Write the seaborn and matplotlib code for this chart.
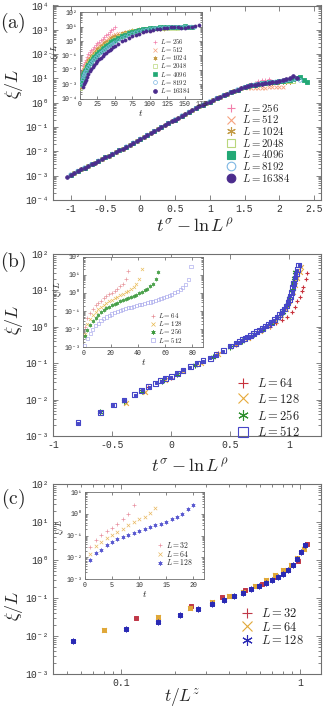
import numpy as np
import matplotlib
matplotlib.use("Agg")
import matplotlib.pyplot as plt
import seaborn as sns
from matplotlib.lines import Line2D
from matplotlib.ticker import (LogLocator, FixedLocator, FuncFormatter,
                               MultipleLocator, NullFormatter)

# ---------------------------------------------------------------- panel (a)
A_SIZES = [256, 512, 1024, 2048, 4096, 8192, 16384]
A_COLORS = ["#f27fab", "#f6a27e", "#c39a45", "#b9d77c", "#22a875", "#7db7e3", "#4b2c8d"]
A_MARKERS = ["+", "x", (6, 2, 0), "s", "s", "o", "o"]
A_OPEN = [False, False, False, True, False, True, False]

# collapsed curve xi/L (log10) vs t^sigma - ln L^rho, shared by all sizes
A_X = [-1.05, -1.0, -0.95, -0.9, -0.85, -0.8, -0.75, -0.7, -0.65, -0.6, -0.55, -0.5,
       -0.45, -0.4, -0.35, -0.3, -0.25, -0.2, -0.15, -0.1, -0.05, 0.0, 0.05, 0.1,
       0.15, 0.2, 0.25, 0.3, 0.35, 0.4, 0.45, 0.5, 0.55, 0.6, 0.65, 0.7, 0.75, 0.8,
       0.85, 0.9, 0.95, 1.0, 1.05, 1.1, 1.15, 1.2, 1.25, 1.3, 1.35, 1.4, 1.45, 1.5]
A_LOGY = [-3.05, -2.96, -2.88, -2.81, -2.74, -2.67, -2.60, -2.53, -2.46, -2.39, -2.32, -2.25,
          -2.18, -2.11, -2.03, -1.96, -1.89, -1.81, -1.73, -1.65, -1.57, -1.49, -1.41, -1.33,
          -1.25, -1.17, -1.09, -1.01, -0.93, -0.85, -0.77, -0.69, -0.61, -0.53, -0.46, -0.38,
          -0.30, -0.23, -0.15, -0.08, -0.01, 0.05, 0.12, 0.19, 0.25, 0.31, 0.37, 0.43,
          0.49, 0.54, 0.59, 0.64]
A_START = [4, 2, 2, 2, 1, 1, 0]
A_STEP = [2, 2, 2, 2, 2, 2, 1]

# saturation tails per size
A_TX_256 = [1.55, 1.6, 1.65, 1.7, 1.75, 1.8, 1.85]
A_TY_256 = [0.72, 0.78, 0.83, 0.88, 0.92, 0.95, 0.99]
A_TX_512 = [1.55, 1.6, 1.65, 1.7, 1.75, 1.8, 1.85, 1.9, 1.95, 2.0, 2.05]
A_TY_512 = [0.60, 0.60, 0.61, 0.61, 0.62, 0.62, 0.63, 0.63, 0.64, 0.65, 0.66]
A_TX_1024 = [1.55, 1.6, 1.65, 1.7, 1.75, 1.8, 1.85, 1.9, 1.95, 2.0, 2.05, 2.1, 2.15]
A_TY_1024 = [0.68, 0.71, 0.74, 0.76, 0.78, 0.8, 0.82, 0.83, 0.84, 0.85, 0.86, 0.86, 0.85]
A_TX_2048 = [1.55, 1.6, 1.65, 1.7, 1.75, 1.8, 1.85, 1.9, 1.95, 2.0, 2.05, 2.1, 2.15, 2.2]
A_TY_2048 = [0.69, 0.72, 0.75, 0.78, 0.8, 0.82, 0.84, 0.85, 0.86, 0.87, 0.88, 0.88, 0.89, 0.88]
A_TX_4096 = [1.55, 1.6, 1.65, 1.7, 1.75, 1.8, 1.85, 1.9, 1.95, 2.0, 2.05, 2.1, 2.15, 2.2,
             2.25, 2.3, 2.35, 2.4]
A_TY_4096 = [0.68, 0.72, 0.75, 0.78, 0.8, 0.82, 0.84, 0.86, 0.87, 0.88, 0.9, 0.92, 0.95, 0.97,
             1.0, 1.05, 0.95, 0.85]
A_TX_8192 = [1.55, 1.6, 1.65, 1.7, 1.75, 1.8, 1.85, 1.9, 1.95, 2.0, 2.05, 2.1, 2.15, 2.2,
             2.25, 2.3]
A_TY_8192 = [0.68, 0.71, 0.74, 0.77, 0.79, 0.81, 0.83, 0.85, 0.86, 0.88, 0.9, 0.92, 0.94, 0.96,
             0.98, 0.92]
A_TX_16384 = [1.55, 1.6, 1.65, 1.7, 1.75, 1.8, 1.85, 1.9, 1.95, 2.0, 2.05, 2.1, 2.15, 2.2, 2.25]
A_TY_16384 = [0.68, 0.71, 0.74, 0.77, 0.79, 0.81, 0.83, 0.85, 0.87, 0.9, 0.93, 0.96, 1.0, 1.12, 1.0]
A_TAILS = [(A_TX_256, A_TY_256), (A_TX_512, A_TY_512), (A_TX_1024, A_TY_1024),
           (A_TX_2048, A_TY_2048), (A_TX_4096, A_TY_4096), (A_TX_8192, A_TY_8192),
           (A_TX_16384, A_TY_16384)]

# inset (a): xi/L (log10) vs t
AI_T = [1, 2, 3, 4, 5, 6, 7, 8, 10, 12, 14, 16, 18, 20, 22.5, 25, 27.5, 30, 32.5, 35,
        37.5, 40, 42.5, 45, 47.5, 50, 55, 60, 65, 70, 75, 80, 85, 90, 95, 100, 105, 110,
        115, 120, 125, 130, 135, 140, 145, 150, 155, 160, 165, 170]
AI_Y_256 = [-3.0, -2.55, -2.2, -1.95, -1.75, -1.58, -1.43, -1.3, -1.1, -0.93, -0.78, -0.64,
            -0.52, -0.41, -0.28, -0.16, -0.05, 0.06, 0.17, 0.28, 0.39, 0.5, 0.62, 0.74, 0.87, 0.99]
AI_Y_512 = [-3.1, -2.7, -2.4, -2.17, -1.98, -1.82, -1.68, -1.56, -1.36, -1.19, -1.04, -0.9,
            -0.78, -0.67, -0.54, -0.42, -0.31, -0.2, -0.1, 0.0, 0.09, 0.18, 0.26, 0.34, 0.41,
            0.47, 0.54, 0.58, 0.61, 0.62, 0.63, 0.64, 0.65, 0.66, 0.67, 0.68]
AI_Y_1024 = [-3.2, -2.8, -2.52, -2.3, -2.12, -1.96, -1.83, -1.71, -1.51, -1.34, -1.19, -1.06,
             -0.94, -0.83, -0.7, -0.58, -0.47, -0.36, -0.26, -0.16, -0.07, 0.02, 0.1, 0.18,
             0.26, 0.33, 0.45, 0.56, 0.65, 0.72, 0.77, 0.8, 0.82, 0.83, 0.84, 0.85, 0.86,
             0.86, 0.87, 0.86]
AI_Y_2048 = [-3.3, -2.9, -2.62, -2.41, -2.24, -2.09, -1.96, -1.85, -1.66, -1.5, -1.36, -1.23,
             -1.11, -1.0, -0.87, -0.75, -0.64, -0.53, -0.43, -0.33, -0.24, -0.15, -0.06, 0.02,
             0.1, 0.18, 0.31, 0.43, 0.54, 0.63, 0.7, 0.76, 0.8, 0.83, 0.85, 0.87, 0.88, 0.89,
             0.9, 0.9, 0.91, 0.9, 0.9, 0.89]
AI_Y_4096 = [-3.0, -2.72, -2.52, -2.36, -2.22, -2.1, -1.99, -1.8, -1.64, -1.5, -1.37, -1.25,
             -1.14, -1.01, -0.89, -0.78, -0.67, -0.57, -0.47, -0.37, -0.28, -0.19, -0.1,
             -0.02, 0.06, 0.2, 0.33, 0.45, 0.55, 0.64, 0.71, 0.77, 0.82, 0.86, 0.89, 0.92,
             0.94, 0.95, 0.96, 0.97, 0.97, 0.98, 0.99, 1.0, 1.02, 1.0, 0.95]
AI_Y_8192 = [-3.1, -2.84, -2.65, -2.5, -2.37, -2.25, -2.15, -1.96, -1.8, -1.66, -1.53, -1.41,
             -1.3, -1.17, -1.05, -0.94, -0.83, -0.73, -0.63, -0.53, -0.44, -0.35, -0.26,
             -0.18, -0.1, 0.05, 0.19, 0.31, 0.42, 0.52, 0.6, 0.67, 0.73, 0.78, 0.82, 0.86,
             0.89, 0.91, 0.93, 0.95, 0.96, 0.97, 0.97, 0.98, 0.98, 0.99, 1.0, 0.95]
AI_Y_16384 = [-3.2, -3.0, -2.85, -2.72, -2.5, -2.3, -2.12, -1.96, -1.82, -1.69, -1.54, -1.4,
              -1.27, -1.15, -1.03, -0.92, -0.81, -0.71, -0.61, -0.52, -0.43, -0.34, -0.18,
              -0.03, 0.1, 0.22, 0.33, 0.43, 0.52, 0.6, 0.67, 0.73, 0.78, 0.83, 0.87, 0.9,
              0.93, 0.95, 0.97, 0.95, 0.93, 0.94, 0.96, 0.98, 1.02, 1.1]
AI_START = [0, 0, 0, 0, 1, 1, 4]
AI_SERIES = [AI_Y_256, AI_Y_512, AI_Y_1024, AI_Y_2048, AI_Y_4096, AI_Y_8192, AI_Y_16384]

# ---------------------------------------------------------------- panel (b)
B_SIZES = [64, 128, 256, 512]
B_COLORS = ["#c8323c", "#e6aa3c", "#2f8f2f", "#4646c8"]
B_INSET_COLORS = ["#e58c92", "#e8b84e", "#3d9a3d", "#a9a9ec"]
B_MARKERS = ["+", "x", (6, 2, 0), "s"]

B_X_64 = [-0.2, 0.0, 0.2, 0.4, 0.55, 0.67, 0.77, 0.84, 0.89, 0.94, 0.98, 1.02, 1.05, 1.07,
          1.09, 1.11, 1.12, 1.14, 1.15]
B_Y_64 = [-1.66, -1.4, -1.05, -0.72, -0.5, -0.3, -0.12, 0.0, 0.1, 0.2, 0.28, 0.4, 0.55, 0.7,
          0.83, 0.97, 1.1, 1.3, 1.47]
B_X_128 = [-0.38, -0.22, -0.05, 0.1, 0.25, 0.4, 0.55, 0.65, 0.75, 0.82, 0.88, 0.93, 0.97, 1.0,
           1.03, 1.05, 1.07, 1.09, 1.10]
B_Y_128 = [-2.1, -1.8, -1.47, -1.22, -0.99, -0.76, -0.47, -0.3, -0.12, 0.02, 0.17, 0.33, 0.5,
           0.7, 0.95, 1.15, 1.35, 1.5, 1.63]
B_X_256 = [-0.60, -0.40, -0.25, -0.08, 0.05, 0.2, 0.35, 0.5, 0.6, 0.7, 0.78, 0.85, 0.9, 0.95,
           0.98, 1.0, 1.02, 1.03, 1.04, 1.05]
B_Y_256 = [-2.35, -2.03, -1.76, -1.5, -1.3, -1.05, -0.84, -0.55, -0.38, -0.2, -0.05, 0.1, 0.25,
           0.42, 0.6, 0.8, 1.0, 1.2, 1.35, 1.5]
B_X_512 = [-0.79, -0.60, -0.49, -0.40, -0.31, -0.25, -0.19, -0.13, -0.09, -0.05, 0.0, 0.05,
           0.10, 0.16, 0.22, 0.27, 0.33, 0.38, 0.44, 0.50, 0.55, 0.575, 0.60, 0.625, 0.65,
           0.675, 0.70, 0.725, 0.75, 0.775, 0.80, 0.825, 0.85, 0.875, 0.90, 0.92, 0.94, 0.96,
           0.975, 0.99, 1.0, 1.01, 1.02, 1.03, 1.04, 1.05, 1.06, 1.07, 1.08]
B_Y_512 = [-2.63, -2.35, -2.15, -2.01, -1.86, -1.74, -1.65, -1.55, -1.48, -1.42, -1.37, -1.28,
           -1.19, -1.10, -1.0, -0.93, -0.87, -0.77, -0.66, -0.53, -0.45, -0.41, -0.36, -0.32,
           -0.28, -0.24, -0.19, -0.14, -0.09, -0.04, 0.02, 0.07, 0.12, 0.19, 0.27, 0.34, 0.41,
           0.49, 0.57, 0.66, 0.74, 0.84, 0.95, 1.08, 1.2, 1.33, 1.45, 1.57, 1.70]
B_MAIN = [(B_X_64, B_Y_64), (B_X_128, B_Y_128), (B_X_256, B_Y_256), (B_X_512, B_Y_512)]

# inset (b): xi/L (log10) vs t
BI_T = [1, 3, 5, 7, 9, 11, 13, 15, 17, 19, 21, 23, 25, 27, 29, 31, 33, 35, 37, 39, 41, 43,
        45, 47, 49, 51, 53, 55, 57, 59, 61, 63, 65, 67, 69, 71, 73, 75, 77, 79]
BI_Y_64 = [-1.9, -1.4, -1.08, -0.86, -0.69, -0.55, -0.42, -0.3, -0.19, -0.08, 0.02, 0.12, 0.23,
           0.36, 0.52, 0.75, 1.2]
BI_Y_128 = [-2.25, -1.72, -1.42, -1.2, -1.03, -0.89, -0.77, -0.66, -0.56, -0.47, -0.38, -0.3,
            -0.22, -0.14, -0.06, 0.03, 0.12, 0.22, 0.34, 0.5, 0.75, 1.3]
BI_Y_256 = [-2.4, -2.05, -1.78, -1.56, -1.37, -1.2, -1.06, -0.94, -0.84, -0.75, -0.67, -0.6,
            -0.53, -0.47, -0.41, -0.35, -0.29, -0.23, -0.17, -0.1, -0.03, 0.05, 0.14, 0.24,
            0.36, 0.52, 0.75, 1.15]
BI_Y_512 = [-2.9, -2.5, -2.22, -2.0, -1.82, -1.67, -1.54, -1.43, -1.33, -1.24, -1.16, -1.09,
            -1.03, -0.97, -0.92, -0.87, -0.82, -0.78, -0.74, -0.7, -0.66, -0.62, -0.58, -0.54,
            -0.5, -0.46, -0.41, -0.36, -0.31, -0.26, -0.2, -0.14, -0.07, 0.0, 0.08, 0.18, 0.3,
            0.47, 0.75, 1.45]
BI_SERIES = [BI_Y_64, BI_Y_128, BI_Y_256, BI_Y_512]

# ---------------------------------------------------------------- panel (c)
C_SIZES = [32, 64, 128]
C_COLORS = ["#c03848", "#e0a838", "#2a2ab4"]
C_INSET_COLORS = ["#e890a0", "#e8b860", "#5a5ad0"]
C_MARKERS = ["+", "x", (6, 2, 0)]

C_T_32 = [1, 2, 3, 4, 5, 6, 7, 8, 9]
C_X_32 = [0.122, 0.245, 0.367, 0.49, 0.612, 0.735, 0.857, 0.98, 1.10]
C_Y_32 = [-1.52, -1.2, -0.97, -0.8, -0.63, -0.45, -0.25, -0.02, 0.41]
C_T_64 = [1, 2, 3, 4, 5, 6, 7, 8, 9, 10, 11, 12, 13]
C_X_64 = [0.080, 0.161, 0.242, 0.322, 0.402, 0.483, 0.564, 0.644, 0.724, 0.805, 0.886,
          0.966, 1.047]
C_Y_64 = [-1.83, -1.49, -1.27, -1.10, -0.96, -0.83, -0.68, -0.53, -0.39, -0.25, -0.13, 0.05,
          0.28]
C_T_128 = [1, 2, 3, 4, 5, 6, 7, 8, 9, 10, 11, 12, 13, 14, 15, 16, 17, 18, 19, 20]
C_X_128 = [0.054, 0.107, 0.161, 0.214, 0.268, 0.321, 0.375, 0.428, 0.482, 0.535, 0.589,
           0.642, 0.696, 0.749, 0.803, 0.856, 0.910, 0.963, 1.017, 1.07]
C_Y_128 = [-2.12, -1.82, -1.64, -1.45, -1.30, -1.17, -1.05, -0.95, -0.86, -0.77, -0.68,
           -0.60, -0.52, -0.44, -0.36, -0.25, -0.12, 0.02, 0.22, 0.40]
C_DATA = [(C_T_32, C_X_32, C_Y_32), (C_T_64, C_X_64, C_Y_64), (C_T_128, C_X_128, C_Y_128)]

# ---------------------------------------------------------------- style
sns.set_style("ticks")
plt.rcParams["font.family"] = ["Liberation Mono", "DejaVu Sans Mono"]
plt.rcParams["mathtext.fontset"] = "cm"
plt.rcParams["axes.unicode_minus"] = False
plt.rcParams["axes.linewidth"] = 0.8
plt.rcParams["axes.edgecolor"] = "#707070"

SUP = str.maketrans("-0123456789", "\u207b\u2070\u00b9\u00b2\u00b3\u2074\u2075\u2076\u2077\u2078\u2079")


def pow_label(v, pos):
    if v <= 0:
        return ""
    e = int(np.round(np.log10(v)))
    if not np.isclose(v, 10.0 ** e):
        return ""
    return "10" + str(e).translate(SUP)


def plain_label(v, pos):
    s = f"{v:g}"
    return "0" if s in ("0", "-0") else s


def setup(ax, ylim, fs, inset=False):
    ax.set_yscale("log")
    ax.set_ylim(*ylim)
    ax.yaxis.set_major_locator(LogLocator(base=10, numticks=20))
    ax.yaxis.set_minor_locator(LogLocator(base=10, subs=np.arange(2, 10), numticks=20))
    ax.yaxis.set_major_formatter(FuncFormatter(pow_label))
    ax.yaxis.set_minor_formatter(NullFormatter())
    big, small = (2.2, 1.2) if inset else (3.5, 2.0)
    ax.tick_params(which="both", direction="in", top=True, right=True, labelsize=fs,
                   colors="#707070", labelcolor="#333333", width=0.6, pad=2 if inset else 3)
    ax.tick_params(which="major", length=big)
    ax.tick_params(which="minor", length=small)
    for sp in ax.spines.values():
        sp.set_linewidth(0.8 if not inset else 0.6)


def draw(ax, x, logy, color, marker, s, open_=False, lw=0.7, alpha=1.0, z=2):
    kw = dict(x=np.asarray(x, dtype=float), y=10.0 ** np.asarray(logy, dtype=float),
              ax=ax, marker=marker, s=s, color=color, alpha=alpha, zorder=z,
              linewidth=lw, legend=False)
    if open_:
        kw.update(facecolor="none", edgecolor=color)
    elif marker in ("o", "s"):
        kw.update(edgecolor=color)
    sns.scatterplot(**kw)


def handle(color, marker, ms, open_=False, mew=0.8):
    return Line2D([], [], ls="", marker=marker, color=color, ms=ms, mew=mew,
                  mec=color, mfc="none" if open_ else color)


def add_legend(ax, colors, markers, opens, sizes, anchor, fs, ms, ls, mew=0.8, hl=1.0, pad=0.5):
    hs = [handle(c, m, ms, o, mew) for c, m, o in zip(colors, markers, opens)]
    ax.legend(hs, [f"$L = {n}$" for n in sizes], loc="upper left", bbox_to_anchor=anchor,
              frameon=False, fontsize=fs, handlelength=hl, handletextpad=pad,
              labelspacing=ls, borderpad=0, borderaxespad=0)


W, H = 332, 708
fig = plt.figure(figsize=(W / 100, H / 100), dpi=100)


def box(l, t, r, b):
    return [l / W, 1 - b / H, (r - l) / W, (b - t) / H]


MAIN_TICK = 7
INSET_TICK = 4.8

# ---------------- (a) main
ax = fig.add_axes(box(53.3, 5.5, 321, 200))
setup(ax, (1e-4, 1e4), MAIN_TICK)
ax.set_xlim(-1.25, 2.6)
ax.xaxis.set_major_locator(MultipleLocator(0.5))
ax.xaxis.set_major_formatter(FuncFormatter(plain_label))
for i in range(len(A_SIZES)):
    xs = A_X[A_START[i]::A_STEP[i]] + A_TAILS[i][0]
    ys = A_LOGY[A_START[i]::A_STEP[i]] + A_TAILS[i][1]
    draw(ax, xs, ys, A_COLORS[i], A_MARKERS[i], 7, open_=A_OPEN[i], lw=0.6, z=2 + i)
ax.set_ylabel(r"$\xi/L$", fontsize=13, labelpad=2)
ax.yaxis.set_label_coords(-0.105, 0.6)
ax.set_xlabel(r"$t^{\sigma}-\ln L^{\rho}$", fontsize=13)
ax.xaxis.set_label_coords(0.53, -0.09)
add_legend(ax, A_COLORS, A_MARKERS, A_OPEN, A_SIZES, (0.645, 0.505), 7.8, 6.2, -0.03)

# ---------------- (a) inset
ai = fig.add_axes(box(80, 12.3, 202, 98.5))
setup(ai, (1e-4, 1e2), INSET_TICK, inset=True)
ai.set_xlim(0, 175)
ai.xaxis.set_major_locator(MultipleLocator(25))
ai.xaxis.set_major_formatter(FuncFormatter(plain_label))
for i in range(len(A_SIZES)):
    ys = AI_SERIES[i]
    ts = AI_T[AI_START[i]:AI_START[i] + len(ys)]
    draw(ai, ts, ys, A_COLORS[i], A_MARKERS[i], 5, open_=A_OPEN[i], lw=0.5, z=2 + i)
ai.set_ylabel(r"$\xi/L$", fontsize=6.5, labelpad=1)
ai.yaxis.set_label_coords(-0.155, 0.54)
ai.set_xlabel(r"$t$", fontsize=7, labelpad=0)
add_legend(ai, A_COLORS, A_MARKERS, A_OPEN, A_SIZES, (0.594, 0.713), 4.8, 2.8, -0.13,
           mew=0.5, hl=0.8, pad=0.4)

# ---------------- (b) main
bx = fig.add_axes(box(53.3, 254, 321, 436))
setup(bx, (1e-3, 1e2), MAIN_TICK)
bx.set_xlim(-1, 1.27)
bx.xaxis.set_major_locator(MultipleLocator(0.5))
bx.xaxis.set_major_formatter(FuncFormatter(plain_label))
for i in range(len(B_SIZES)):
    x, y = B_MAIN[i]
    draw(bx, x, y, B_COLORS[i], B_MARKERS[i], 12, open_=(B_MARKERS[i] == "s"), lw=0.8, z=2 + i)
draw(bx, B_X_512, B_Y_512, B_COLORS[3], "s", 1.5, z=6)
bx.set_ylabel(r"$\xi/L$", fontsize=13, labelpad=2)
bx.yaxis.set_label_coords(-0.105, 0.64)
bx.set_xlabel(r"$t^{\sigma}-\ln L^{\rho}$", fontsize=13)
bx.xaxis.set_label_coords(0.51, -0.12)
add_legend(bx, B_COLORS, B_MARKERS, [m == "s" for m in B_MARKERS], B_SIZES,
           (0.686, 0.324), 9, 7.5, 0.22, pad=0.6)

# ---------------- (b) inset
bi = fig.add_axes(box(83.3, 256.7, 203.3, 347.3))
setup(bi, (1e-3, 1e2), INSET_TICK, inset=True)
bi.set_xlim(0, 88)
bi.xaxis.set_major_locator(MultipleLocator(20))
bi.xaxis.set_major_formatter(FuncFormatter(plain_label))
for i in range(len(B_SIZES)):
    ys = BI_SERIES[i]
    draw(bi, BI_T[:len(ys)], ys, B_INSET_COLORS[i], B_MARKERS[i], 5,
         open_=(B_MARKERS[i] == "s"), lw=0.5, alpha=0.9, z=2 + i)
bi.set_ylabel(r"$\xi/L$", fontsize=6.5, labelpad=1)
bi.yaxis.set_label_coords(-0.16, 0.65)
bi.set_xlabel(r"$t$", fontsize=7, labelpad=0)
add_legend(bi, B_INSET_COLORS, B_MARKERS, [m == "s" for m in B_MARKERS], B_SIZES,
           (0.556, 0.40), 5, 3, -0.12, mew=0.5, hl=0.8, pad=0.4)

# ---------------- (c) main
cx = fig.add_axes(box(53.3, 484, 321, 674))
setup(cx, (1e-3, 1e2), MAIN_TICK)
cx.set_xscale("log")
cx.set_xlim(0.0419, 1.31)
cx.xaxis.set_major_locator(FixedLocator([0.1, 1.0]))
cx.xaxis.set_major_formatter(FuncFormatter(lambda v, p: "0.1" if v < 0.5 else "1"))
cx.xaxis.set_minor_locator(LogLocator(base=10, subs=np.arange(2, 10), numticks=20))
cx.xaxis.set_minor_formatter(NullFormatter())
for i in range(len(C_SIZES)):
    t, x, y = C_DATA[i]
    draw(cx, x, y, C_COLORS[i], C_MARKERS[i], 12, lw=0.8, z=2 + i)
    draw(cx, x, y, C_COLORS[i], "s", 5, z=2 + i)
cx.set_ylabel(r"$\xi/L$", fontsize=13, labelpad=2)
cx.yaxis.set_label_coords(-0.105, 0.36)
cx.set_xlabel(r"$t/L^{z}$", fontsize=12.5)
cx.xaxis.set_label_coords(0.48, -0.065)
add_legend(cx, C_COLORS, C_MARKERS, [False] * 3, C_SIZES, (0.70, 0.353), 9, 7.5, 0.05,
           pad=0.6)

# ---------------- (c) inset
ci = fig.add_axes(box(85, 492.3, 204, 579))
setup(ci, (1e-3, 1e1), INSET_TICK, inset=True)
ci.set_xlim(0, 22)
ci.xaxis.set_major_locator(MultipleLocator(5))
ci.xaxis.set_major_formatter(FuncFormatter(plain_label))
for i in range(len(C_SIZES)):
    t, x, y = C_DATA[i]
    draw(ci, t, y, C_INSET_COLORS[i], C_MARKERS[i], 6, lw=0.5, z=2 + i)
ci.set_ylabel(r"$\xi/L$", fontsize=6.5, labelpad=1)
ci.yaxis.set_label_coords(-0.16, 0.6)
ci.set_xlabel(r"$t$", fontsize=7, labelpad=0)
add_legend(ci, C_INSET_COLORS, C_MARKERS, [False] * 3, C_SIZES, (0.605, 0.45), 5.5, 3,
           -0.17, mew=0.5, hl=0.8, pad=0.4)

# panel tags
for lbl, yy in [("(a)", 23), ("(b)", 262), ("(c)", 499)]:
    fig.text(13 / W, 1 - yy / H, f"$\\mathrm{{{lbl}}}$", fontsize=14, ha="center", va="center")

fig.savefig("out.png", dpi=100)
